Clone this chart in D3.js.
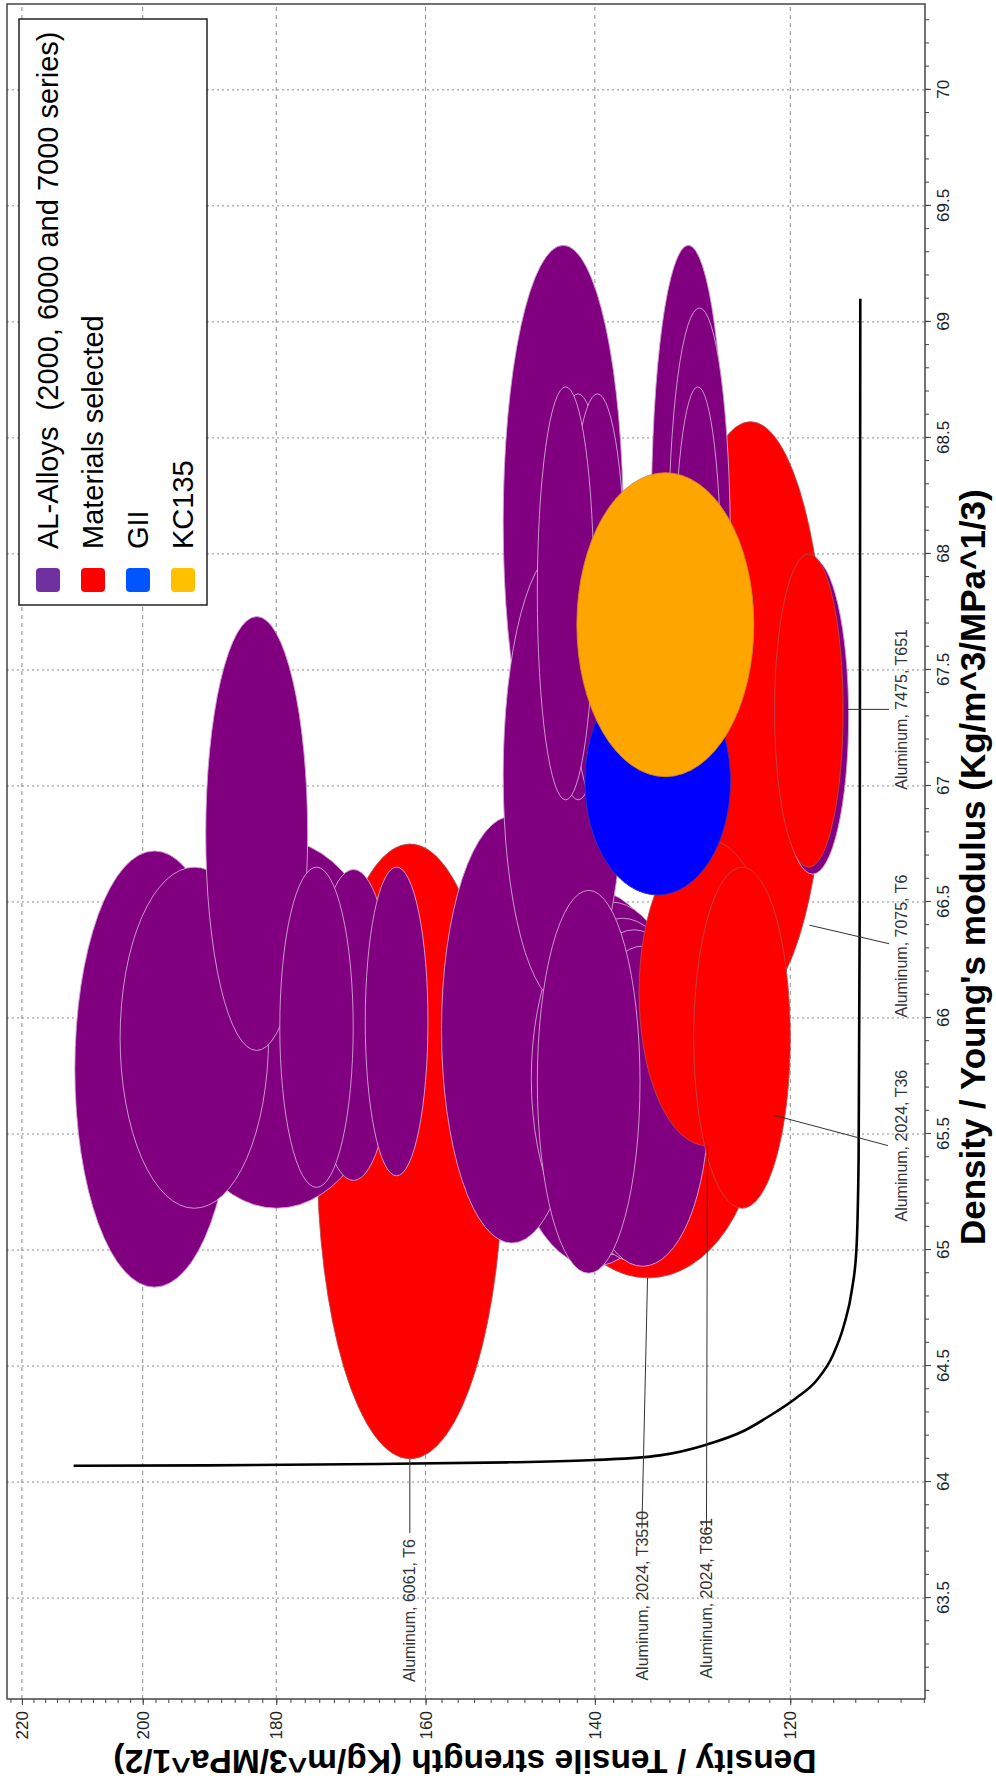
<!DOCTYPE html>
<html>
<head>
<meta charset="utf-8">
<script src="https://cdn.jsdelivr.net/npm/d3@7"></script>
<style>
  body { margin: 0; background: #fff; }
  svg { display: block; font-family: "Liberation Sans", Arial, sans-serif; }
  .keep-spaces { white-space: pre; }
</style>
</head>
<body>
<svg id="chart" width="996" height="1788"></svg>
<script>
// ---- axis settings ----
const xTicks = [63.5, 64, 64.5, 65, 65.5, 66, 66.5, 67, 67.5, 68, 68.5, 69, 69.5, 70];
const yTicks = [120, 140, 160, 180, 200, 220];
const xDomain = [63.065, 70.37];   // Density / Young's modulus^(1/3)
const yDomain = [107.9, 222.6];    // Density / Tensile strength^(1/2), log axis

// ---- property ranges: [E-index low, E-index high, strength-index low, strength-index high] ----
const alAlloys = [
  [64.84, 66.72, 186.1, 211.0],
  [65.18, 66.65, 181.1, 203.6],
  [65.18, 66.77, 164.1, 197.3],
  [65.86, 67.73, 175.6, 190.3],
  [65.27, 66.65, 169.4, 179.5],
  [65.30, 66.64, 164.1, 174.8],
  [65.32, 66.65, 159.7, 167.8],
  [65.03, 66.87, 141.4, 158.0],
  [66.94, 69.33, 136.9, 150.5],
  [66.99, 69.33, 126.3, 133.9],
  [66.99, 69.06, 125.8, 132.1],
  [66.94, 68.72, 140.1, 146.5],
  [66.94, 68.69, 138.6, 145.2],
  [66.92, 68.69, 136.6, 142.9],
  [66.99, 68.72, 126.7, 131.5],
  [66.06, 68.03, 136.9, 150.5],
  [64.93, 66.55, 130.4, 150.5],
  [64.98, 66.50, 129.8, 147.2],
  [64.98, 66.43, 129.2, 145.2],
  [64.95, 66.38, 128.6, 143.3],
  [64.93, 66.31, 128.0, 142.0],
  [66.62, 67.98, 114.6, 121.3],
  [64.90, 66.55, 135.1, 146.5]
];
const selectedNames = ["Aluminum, 6061, T6", "Aluminum, 2024, T3510", "Aluminum, 2024, T861",
                       "Aluminum, 2024, T36", "Aluminum, 7075, T6", "Aluminum, 7475, T651"];
const selectedRanges = [
  [64.10, 66.75, 150.5, 174.3],
  [64.88, 66.31, 123.0, 146.5],
  [65.45, 66.77, 121.5, 135.2],
  [65.18, 66.65, 120.0, 129.5],
  [66.06, 68.57, 116.6, 131.5],
  [66.65, 68.00, 115.1, 121.5]
];
const giiRange = [66.53, 67.51, 125.8, 141.1];
const kc135Range = [67.04, 68.35, 123.5, 142.0];

// ---- selection (trade-off) line ----
const lineStrength = [211.2, 190, 166, 150, 140, 133, 128.3, 124.5, 121.8, 119.5, 117.5, 116.0, 115.0, 114.3, 113.9, 113.7, 113.6, 113.55];
const lineModulus  = [64.07, 64.072, 64.078, 64.085, 64.095, 64.115, 64.16, 64.22, 64.29, 64.36, 64.44, 64.55, 64.68, 64.83, 65.0, 65.4, 66.5, 69.1];

// ---- labels: text centre and leader line (data coordinates) ----
const labelCentreX = [63.446, 63.51, 63.50, 65.45, 66.31, 67.33];
const labelCentreY = [162.0, 134.8, 128.2, 109.9, 109.9, 109.9];
const leaderFrom   = [[63.78, 162.0], [63.80, 134.9], [63.79, 128.2], [65.45, 111.1], [66.32, 111.0], [67.33, 111.0]];
const leaderTo     = [[64.10, 162.0], [64.88, 134.3], [65.45, 128.1], [65.58, 121.5], [66.40, 118.2], [67.33, 114.8]];

const legendNames  = ["AL-Alloys  (2000, 6000 and 7000 series)", "Materials selected", "GII", "KC135"];
const legendColors = ["#7030a0", "#ff0000", "#0055ff", "#ffc000"];

// ---- layout ----
const W = 996, H = 1788;
const svg = d3.select("#chart");
// the chart is laid out landscape (H wide, W tall) and turned a quarter turn
const g = svg.append("g").attr("transform", `translate(0,${H}) rotate(-90)`);
const plot = { left: 89, right: 1784, top: 7, bottom: 925 };

const x = d3.scaleLinear().domain(xDomain).range([plot.left, plot.right]);
const y = d3.scaleLog().domain(yDomain).range([plot.bottom, plot.top]);

g.append("defs").append("clipPath").attr("id", "plotClip")
  .append("rect").attr("x", plot.left).attr("y", plot.top)
  .attr("width", plot.right - plot.left).attr("height", plot.bottom - plot.top);

// grid
const grid = g.append("g");
grid.selectAll("line.gx").data(xTicks).join("line")
  .attr("x1", d => x(d)).attr("x2", d => x(d))
  .attr("y1", plot.top).attr("y2", plot.bottom)
  .attr("stroke", "#8a8a8a").attr("stroke-width", 1).attr("stroke-dasharray", "2,3");
grid.selectAll("line.gy").data(yTicks).join("line")
  .attr("x1", plot.left).attr("x2", plot.right)
  .attr("y1", d => y(d)).attr("y2", d => y(d))
  .attr("stroke", "#8a8a8a").attr("stroke-width", 1).attr("stroke-dasharray", "4,4");

// bubbles: larger ranges underneath, the two aircraft materials on top
const marks = g.append("g").attr("clip-path", "url(#plotClip)");
const bubbles = [];
alAlloys.forEach(r => bubbles.push({ r, fill: "#800080", stroke: "#d3a6d3" }));
selectedRanges.forEach(r => bubbles.push({ r, fill: "#ff0000", stroke: "#b84848" }));
const geom = b => {
  const [x0, x1, y0, y1] = b.r;
  return { cx: (x(x0) + x(x1)) / 2, cy: (y(y0) + y(y1)) / 2,
           rx: Math.abs(x(x1) - x(x0)) / 2, ry: Math.abs(y(y1) - y(y0)) / 2 };
};
bubbles.forEach(b => { b.g = geom(b); b.area = b.g.rx * b.g.ry; });
bubbles.sort((a, b) => b.area - a.area);
bubbles.push({ r: giiRange, fill: "#0000ff", stroke: "#3030c0" });
bubbles.push({ r: kc135Range, fill: "#ffa500", stroke: "#d08a20" });
bubbles.forEach(b => { b.g = geom(b); });

marks.selectAll("ellipse").data(bubbles).join("ellipse")
  .attr("cx", d => d.g.cx).attr("cy", d => d.g.cy)
  .attr("rx", d => d.g.rx).attr("ry", d => d.g.ry)
  .attr("fill", d => d.fill).attr("stroke", d => d.stroke).attr("stroke-width", 0.9);

// selection line
const linePts = lineStrength.map((s, i) => [lineModulus[i], s]);
marks.append("path")
  .attr("d", d3.line().x(d => x(d[0])).y(d => y(d[1])).curve(d3.curveMonotoneY)(linePts))
  .attr("fill", "none").attr("stroke", "#000").attr("stroke-width", 2.6);

// labels
const lab = g.append("g");
selectedNames.forEach((name, i) => {
  lab.append("line")
    .attr("x1", x(leaderFrom[i][0])).attr("y1", y(leaderFrom[i][1]))
    .attr("x2", x(leaderTo[i][0])).attr("y2", y(leaderTo[i][1]))
    .attr("stroke", "#333").attr("stroke-width", 1);
  lab.append("text")
    .attr("x", x(labelCentreX[i])).attr("y", y(labelCentreY[i]))
    .attr("dy", "0.35em").attr("text-anchor", "middle")
    .attr("font-size", 16).attr("fill", "#333").text(name);
});

// frame
g.append("rect").attr("x", plot.left).attr("y", plot.top)
  .attr("width", plot.right - plot.left).attr("height", plot.bottom - plot.top)
  .attr("fill", "none").attr("stroke", "#444").attr("stroke-width", 1.5);

// axes
g.append("g").attr("transform", `translate(0,${plot.bottom})`)
  .call(d3.axisBottom(x).tickValues(xTicks).tickSize(6).tickPadding(6).tickFormat(d => String(d)));
const xMinor = d3.range(631, 704).map(v => v / 10);
g.append("g").attr("transform", `translate(0,${plot.bottom})`)
  .call(d3.axisBottom(x).tickValues(xMinor).tickSize(4).tickFormat(""));
g.append("g").attr("transform", `translate(${plot.left},0)`)
  .call(d3.axisLeft(y).tickValues(yTicks).tickSize(6).tickPadding(6).tickFormat(d => String(d)));
const yMinor = d3.range(108, 223, 2);
g.append("g").attr("transform", `translate(${plot.left},0)`)
  .call(d3.axisLeft(y).tickValues(yMinor).tickSize(4).tickFormat(""));
g.selectAll(".domain").remove();
g.selectAll(".tick line").attr("stroke", "#444");
g.selectAll(".tick text").attr("font-size", 17).attr("fill", "#222")
  .attr("font-family", "Liberation Sans, Arial, sans-serif");

// axis titles
g.append("text")
  .attr("x", x(66.65)).attr("y", 985)
  .attr("text-anchor", "middle").attr("font-size", 35).attr("font-weight", "bold")
  .text("Density / Young's modulus (Kg/m^3/MPa^1/3)");
g.append("text")
  .attr("transform", `translate(38,465) rotate(-90)`)
  .attr("text-anchor", "middle").attr("font-size", 33.5).attr("font-weight", "bold")
  .text("Density / Tensile strength (Kg/m^3/MPa^1/2)");

// legend
const leg = g.append("g");
leg.append("rect").attr("x", 1183).attr("y", 19).attr("width", 586).attr("height", 188)
  .attr("fill", "#fff").attr("stroke", "#222").attr("stroke-width", 1.5);
legendNames.forEach((name, i) => {
  const cy = 48 + i * 45;
  leg.append("rect").attr("x", 1196).attr("y", cy - 12).attr("width", 24).attr("height", 24)
    .attr("rx", 4).attr("fill", legendColors[i]);
  leg.append("text").attr("class", "keep-spaces").attr("x", 1239).attr("y", cy).attr("dy", "0.36em")
    .attr("font-size", 29).attr("fill", "#000").text(name);
});
</script>
</body>
</html>
